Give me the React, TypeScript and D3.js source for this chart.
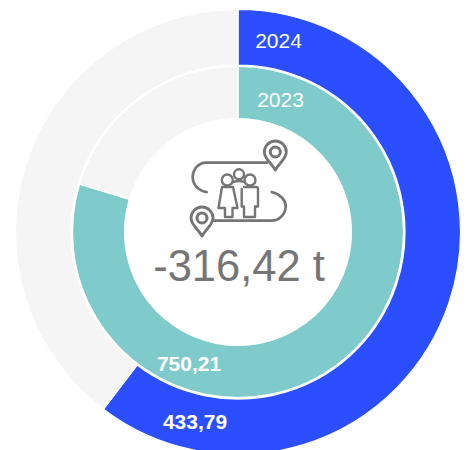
import React from "react";
import * as d3 from "d3";

const years = ["2024", "2023"];
const values2024 = [433.79, 285.2];
const values2023 = [750.21, 191.5];
const valueLabels = ["433,79", "750,21"];
const totalLabel = "-316,42 t";
const ringColors = ["#2b4fff", "#7fcacb"];
const restColor = "#f5f5f5";
const iconColor = "#757575";

const cx = 238;
const cy = 232;

function slices(values: number[]) {
  return d3.pie<number>().sort(null)(values);
}

function Pin({ x, y }: { x: number; y: number }) {
  return (
    <g transform={`translate(${x},${y})`} fill="none" stroke={iconColor}>
      <path strokeWidth={2.8} strokeLinejoin="round" d="M0,18 C-3,12 -11,7 -11,0 A11,11 0 1 1 11,0 C11,7 3,12 0,18 Z" />
      <circle r={5} strokeWidth={3} />
    </g>
  );
}

function Icon() {
  return (
    <g fill="none" stroke={iconColor} strokeLinecap="round" strokeLinejoin="round">
      <path strokeWidth={2.7} d="M267,162.7 H206 A13.5,14.5 0 0 0 192.7,177 C192.7,185 199,191 206.7,192" />
      <path strokeWidth={2.7} d="M271.7,192 C280,194 285.7,200 285.7,206 A14.5,14.5 0 0 1 271,220.7 H214" />
      <circle cx={227.3} cy={180} r={5.5} strokeWidth={2.4} />
      <circle cx={239} cy={174.3} r={5} strokeWidth={2.4} />
      <circle cx={250} cy={180} r={5.5} strokeWidth={2.4} />
      <path strokeWidth={2.4} d="M233.5,182 Q239,180 244,182" />
      <path strokeWidth={2.4} d="M222,187 H233 L237.5,208 H232.5 V217 H225 V208 H218.5 Z" />
      <path strokeWidth={2.4} d="M244,187 H256 Q258,187 258,189 V206.5 H255 V217 H244 V206.5 H241.7 V189" />
      <Pin x={275.3} y={152} />
      <Pin x={202} y={218} />
    </g>
  );
}

export default function App() {
  const outerArc = d3.arc<d3.PieArcDatum<number>>().innerRadius(167).outerRadius(222.5);
  const innerArc = d3.arc<d3.PieArcDatum<number>>().innerRadius(113.5).outerRadius(165.5);
  const rings = [
    { arc: outerArc, data: slices(values2024) },
    { arc: innerArc, data: slices(values2023) },
  ];
  return (
    <svg
      width={470}
      height={450}
      style={{ position: "absolute", left: 0, top: 0 }}
      fontFamily="'Liberation Sans', Arial, sans-serif"
    >
      <g transform={`translate(${cx},${cy})`}>
        {rings.map((ring, r) =>
          ring.data.map((d, i) => (
            <path
              key={`${r}-${i}`}
              d={ring.arc(d) ?? ""}
              fill={i === 0 ? ringColors[r] : restColor}
              stroke="#fff"
              strokeWidth={1.2}
            />
          ))
        )}
      </g>
      <g fill="#fff" fontSize={21}>
        <text x={278.5} y={48} textAnchor="middle">{years[0]}</text>
        <text x={280.5} y={107} textAnchor="middle">{years[1]}</text>
      </g>
      <g fill="#fff" fontSize={21} fontWeight={700}>
        <text x={195} y={428.5} textAnchor="middle">{valueLabels[0]}</text>
        <text x={189} y={371} textAnchor="middle">{valueLabels[1]}</text>
      </g>
      <Icon />
      <text x={239} y={281} textAnchor="middle" fontSize={43.5} fill={iconColor}>{totalLabel}</text>
    </svg>
  );
}
